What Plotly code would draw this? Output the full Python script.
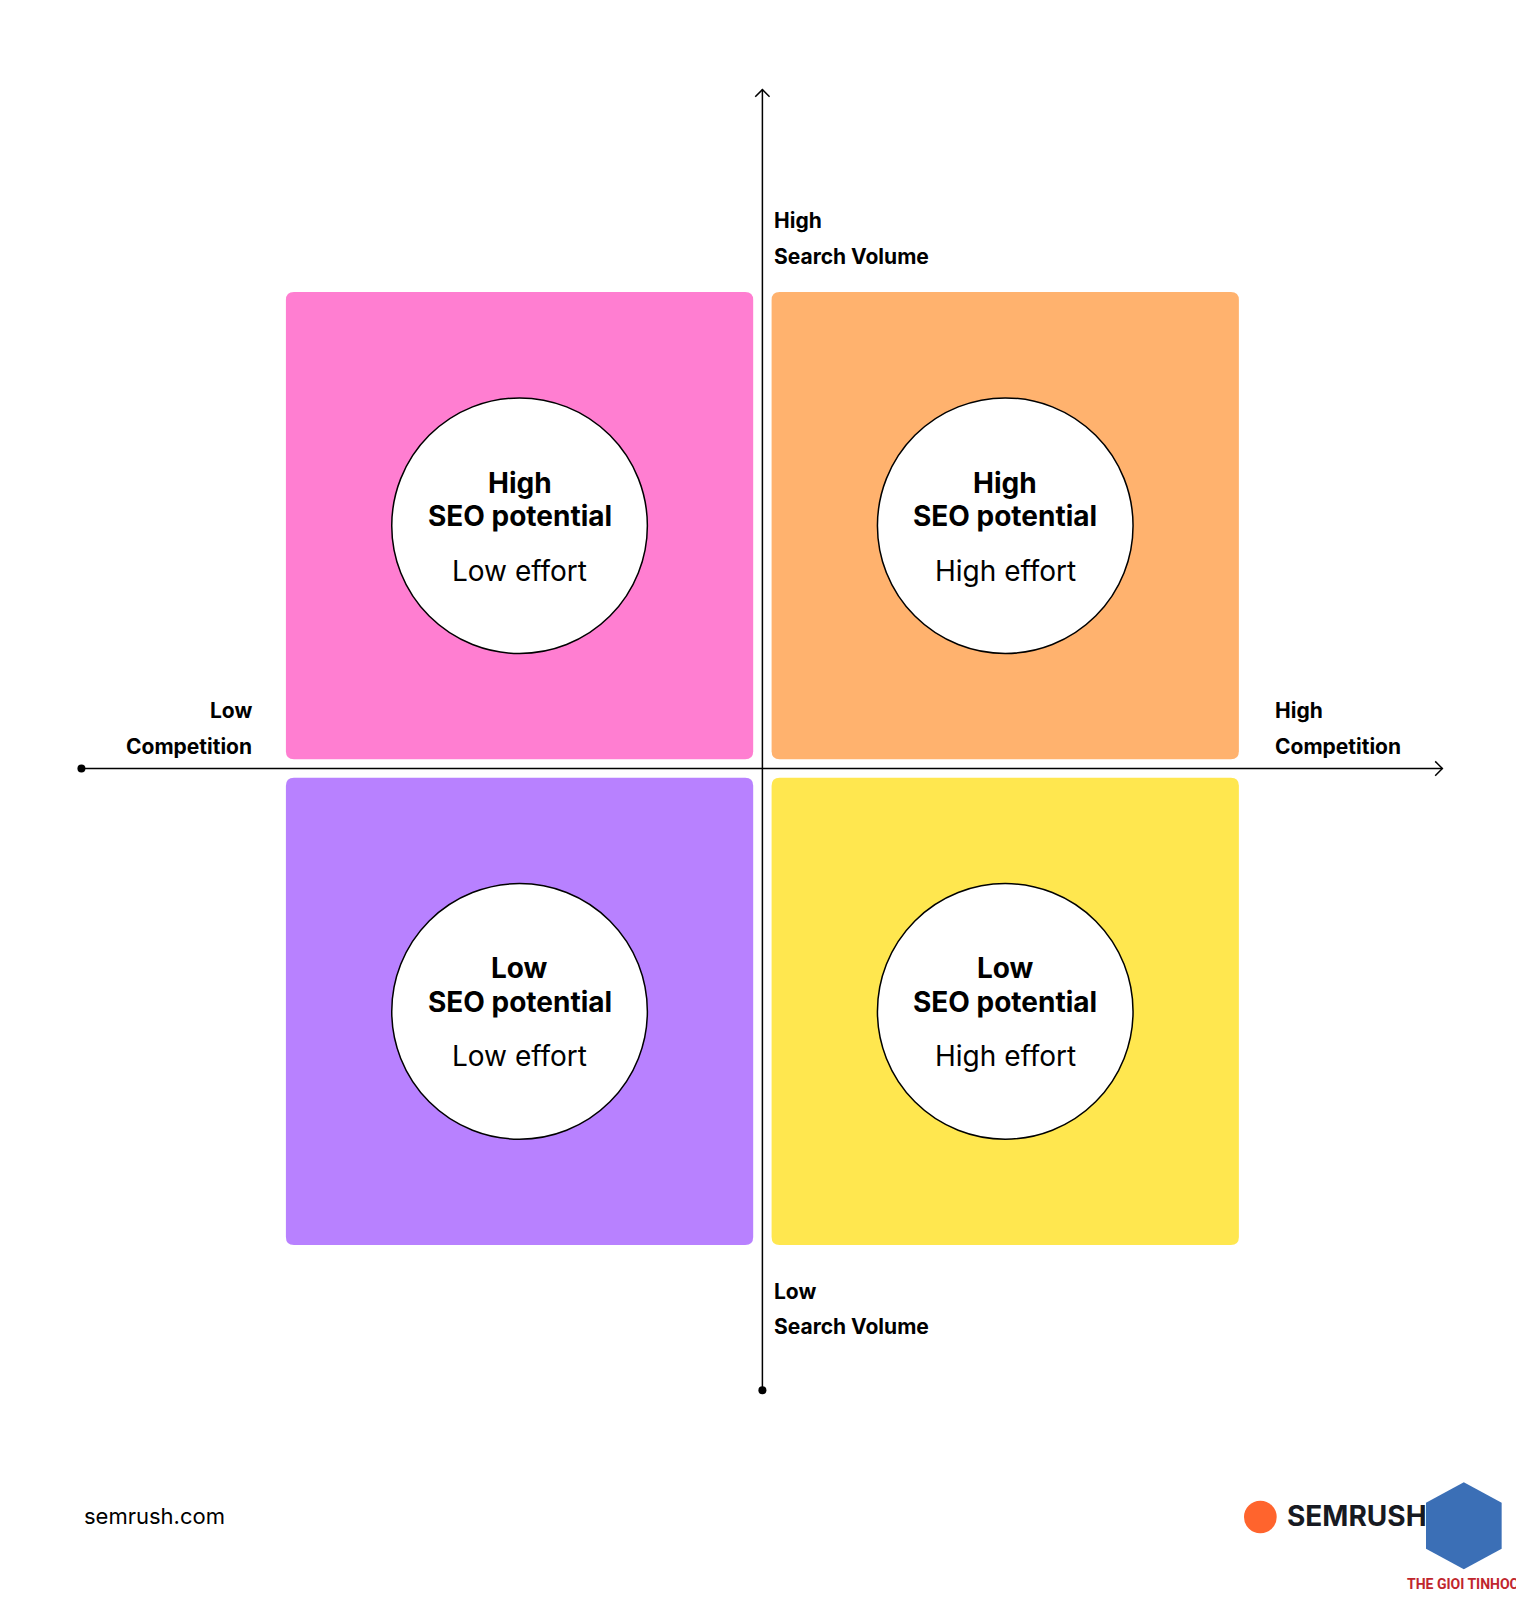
import plotly.graph_objects as go

# quadrant content
potential = ["High", "High", "Low", "Low"]
effort = ["Low effort", "High effort", "Low effort", "High effort"]
colors = ["#FF7ED1", "#FFB26E", "#B881FF", "#FFE74F"]
cols = [0, 1, 0, 1]
rows = [0, 0, 1, 1]

W, H = 1524, 1600
K = 0.978


def X(x):
    return (x - 9.2) / K


def Y(y):
    return (y - 8.2) / K


cx, cy = 747, 752        # axis crossing (reference pixels)
box, gap = 457, 9
rad = 125

shapes = []
annos = []
circ_font = dict(family="Inter", size=28, color="black")
for p, e, c, col, row in zip(potential, effort, colors, cols, rows):
    x0 = X(cx + gap if col else cx - gap - box)
    y0 = Y(cy + gap if row else cy - gap - box)
    b = box / K
    r = 8
    shapes.append(dict(type="path", fillcolor=c, line_width=0, layer="below",
                       path=f"M{x0+r},{y0} L{x0+b-r},{y0} Q{x0+b},{y0} {x0+b},{y0+r} "
                            f"L{x0+b},{y0+b-r} Q{x0+b},{y0+b} {x0+b-r},{y0+b} "
                            f"L{x0+r},{y0+b} Q{x0},{y0+b} {x0},{y0+b-r} "
                            f"L{x0},{y0+r} Q{x0},{y0} {x0+r},{y0} Z"))
    mx, my = x0 + b / 2, y0 + b / 2
    R = rad / K
    shapes.append(dict(type="circle", x0=mx - R, x1=mx + R, y0=my - R, y1=my + R,
                       fillcolor="white", line=dict(color="black", width=1.5)))
    annos.append(dict(x=mx, y=my - 42 / K, text=f"<b>{p}</b>", showarrow=False, font=circ_font))
    annos.append(dict(x=mx, y=my - 9 / K, text="<b>SEO potential</b>", showarrow=False, font=circ_font))
    annos.append(dict(x=mx, y=my + 44 / K, text=e, showarrow=False, font=circ_font))

# axes
ln = dict(color="black", width=1.5)
shapes.append(dict(type="line", x0=X(81), x1=X(1412), y0=Y(cy), y1=Y(cy), line=ln))
shapes.append(dict(type="line", x0=X(cx), x1=X(cx), y0=Y(88), y1=Y(1360), line=ln))
for x, y in [(81, cy), (cx, 1360)]:
    shapes.append(dict(type="circle", x0=X(x) - 4, x1=X(x) + 4, y0=Y(y) - 4, y1=Y(y) + 4,
                       fillcolor="black", line_width=0))
shapes.append(dict(type="path", path=f"M{X(1405)},{Y(cy-7)} L{X(1412)},{Y(cy)} L{X(1405)},{Y(cy+7)}", line=ln))
shapes.append(dict(type="path", path=f"M{X(cx-7)},{Y(95)} L{X(cx)},{Y(88)} L{X(cx+7)},{Y(95)}", line=ln))

lab = dict(family="Inter", size=21, color="black")
axis_labels = [
    (756, 216, "left", "High"), (756, 251, "left", "Search Volume"),
    (756, 1263, "left", "Low"), (756, 1298, "left", "Search Volume"),
    (250, 695, "right", "Low"), (250, 730, "right", "Competition"),
    (1246, 695, "left", "High"), (1246, 730, "left", "Competition"),
]
for x, y, al, t in axis_labels:
    annos.append(dict(x=X(x), y=Y(y), text=f"<b>{t}</b>", showarrow=False, xanchor=al,
                      font=lab, yanchor="middle"))

annos.append(dict(x=X(82), y=Y(1483), text="semrush.com", showarrow=False, xanchor="left",
                  font=dict(family="Inter", size=22, color="black")))
annos.append(dict(x=X(1258), y=Y(1483), text="<b>SEMRUSH</b>", showarrow=False, xanchor="left",
                  font=dict(family="Inter", size=28, color="#171A22")))
shapes.append(dict(type="circle", x0=X(1218), x1=X(1250), y0=Y(1468), y1=Y(1500),
                   fillcolor="#FF642D", line_width=0))
shapes.append(dict(type="path", fillcolor="#3B6FB6", line_width=0,
                   path=f"M{X(1433)},{Y(1450)} L{X(1470)},{Y(1470)} L{X(1470)},{Y(1515)} "
                        f"L{X(1433)},{Y(1535)} L{X(1396)},{Y(1515)} L{X(1396)},{Y(1470)} Z"))
annos.append(dict(x=X(1432), y=Y(1550), text="<b>THE GIOI TINHOC</b>", showarrow=False,
                  font=dict(family="Roboto", size=14, color="#C0262D")))

fig = go.Figure()
fig.update_layout(width=W, height=H, margin=dict(l=0, r=0, t=0, b=0),
                  plot_bgcolor="white", paper_bgcolor="white",
                  shapes=shapes, annotations=annos, showlegend=False,
                  xaxis=dict(range=[0, W], visible=False, fixedrange=True),
                  yaxis=dict(range=[H, 0], visible=False, fixedrange=True))
fig.write_html("out.html")
